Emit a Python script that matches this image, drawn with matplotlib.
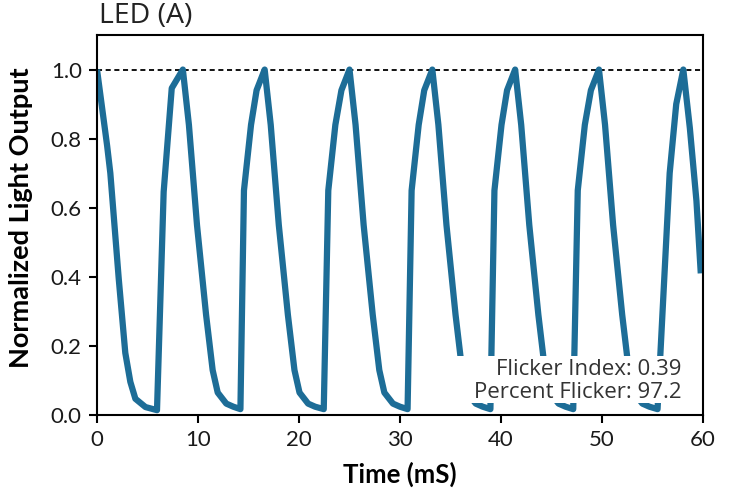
import matplotlib
matplotlib.use("Agg")
import matplotlib.pyplot as plt
from matplotlib.patches import Rectangle

# Normalized light output of LED (A) over 60 ms (explicit samples per cycle)
time_ms = [
    0.0, 1.0, 1.32, 2.15, 2.8, 3.3, 3.8, 4.8, 5.94, 6.6, 7.4,
    8.5, 9.1, 9.9, 10.8, 11.45, 11.95, 12.8, 13.5, 14.2, 14.55, 15.25, 15.8,
    16.6, 17.2, 18.0, 18.9, 19.55, 20.05, 20.9, 21.6, 22.45, 22.9, 23.6, 24.2,
    25.0, 25.6, 26.4, 27.3, 27.95, 28.45, 29.3, 30.0, 30.75, 31.15, 31.85, 32.4,
    33.2, 33.8, 34.6, 35.5, 36.15, 36.65, 37.5, 38.2, 38.95, 39.35, 40.05, 40.6,
    41.4, 42.0, 42.8, 43.7, 44.35, 44.85, 45.7, 46.4, 47.15, 47.6, 48.3, 48.9,
    49.7, 50.3, 51.1, 52.0, 52.65, 53.15, 54.0, 54.7, 55.5, 56.7, 57.35,
    58.05, 58.7, 59.35, 59.78,
]
light_output = [
    1.00, 0.78, 0.70, 0.395, 0.18, 0.096, 0.047, 0.023, 0.014, 0.646, 0.946,
    1.00, 0.84, 0.55, 0.29, 0.13, 0.065, 0.033, 0.024, 0.017, 0.65, 0.84, 0.94,
    1.00, 0.84, 0.55, 0.29, 0.13, 0.065, 0.033, 0.024, 0.017, 0.65, 0.84, 0.94,
    1.00, 0.84, 0.55, 0.29, 0.13, 0.065, 0.033, 0.024, 0.017, 0.65, 0.84, 0.94,
    1.00, 0.84, 0.55, 0.29, 0.13, 0.065, 0.033, 0.024, 0.017, 0.65, 0.84, 0.94,
    1.00, 0.84, 0.55, 0.29, 0.13, 0.065, 0.033, 0.024, 0.017, 0.65, 0.84, 0.94,
    1.00, 0.84, 0.55, 0.29, 0.13, 0.065, 0.033, 0.024, 0.017, 0.70, 0.90,
    1.00, 0.83, 0.62, 0.41,
]

x_ticks = [0, 10, 20, 30, 40, 50, 60]
y_ticks = [0.0, 0.2, 0.4, 0.6, 0.8, 1.0]
flicker_index = 0.39
percent_flicker = 97.2

line_color = "#1d6d97"
label_font = "Lato"
note_font = "Open Sans"

fig = plt.figure(figsize=(7.31, 4.93), dpi=100)
ax = fig.add_axes([0.1327, 0.1582, 0.9617 - 0.1327, 0.929 - 0.1582])

ax.plot(time_ms, light_output, color=line_color, lw=4.5,
        solid_joinstyle="round", solid_capstyle="butt", zorder=2)
ax.axhline(1.0, color="black", lw=1.3, ls=(0, (2.8, 2.0)), zorder=1)

ax.set_xlim(0, 60)
ax.set_ylim(0, 1.1)
ax.set_xticks(x_ticks)
ax.set_xticklabels([str(t) for t in x_ticks])
ax.set_yticks(y_ticks)
ax.set_yticklabels([f"{t:.1f}" for t in y_ticks])

for side in ["left", "right", "top", "bottom"]:
    ax.spines[side].set_linewidth(1.5)
    ax.spines[side].set_color("black")
ax.tick_params(axis="both", direction="out", length=6, width=1.5,
               labelsize=16, pad=5, top=False, right=False)
for lbl in ax.get_xticklabels() + ax.get_yticklabels():
    lbl.set_fontfamily(label_font)
    lbl.set_color("#1a1a1a")

ax.set_xlabel("Time (mS)", fontsize=18.5, fontweight="bold",
              fontfamily=label_font)
ax.set_ylabel("Normalized Light Output", fontsize=19.5, fontweight="bold",
              fontfamily=label_font)
ax.xaxis.set_label_coords(0.5, -0.122)
ax.yaxis.set_label_coords(-0.105, 0.52)

ax.text(0.004, 1.012, "LED (A)", transform=ax.transAxes, ha="left",
        va="bottom", fontsize=20.5, fontfamily=note_font, color="#222222")

# White panel behind the flicker metrics
ax.add_patch(Rectangle((0.591, 0.0316), 0.9785 - 0.591, 0.155 - 0.0316,
                       transform=ax.transAxes, facecolor="white",
                       edgecolor="none", zorder=3))
ax.text(0.964, 0.105, f"Flicker Index: {flicker_index:.2f}",
        transform=ax.transAxes, ha="right", va="baseline", fontsize=16,
        fontfamily=note_font, color="#333333", zorder=4)
ax.text(0.964, 0.044, f"Percent Flicker: {percent_flicker:.1f}",
        transform=ax.transAxes, ha="right", va="baseline", fontsize=16,
        fontfamily=note_font, color="#333333", zorder=4)

fig.savefig("out.png", dpi=100)
